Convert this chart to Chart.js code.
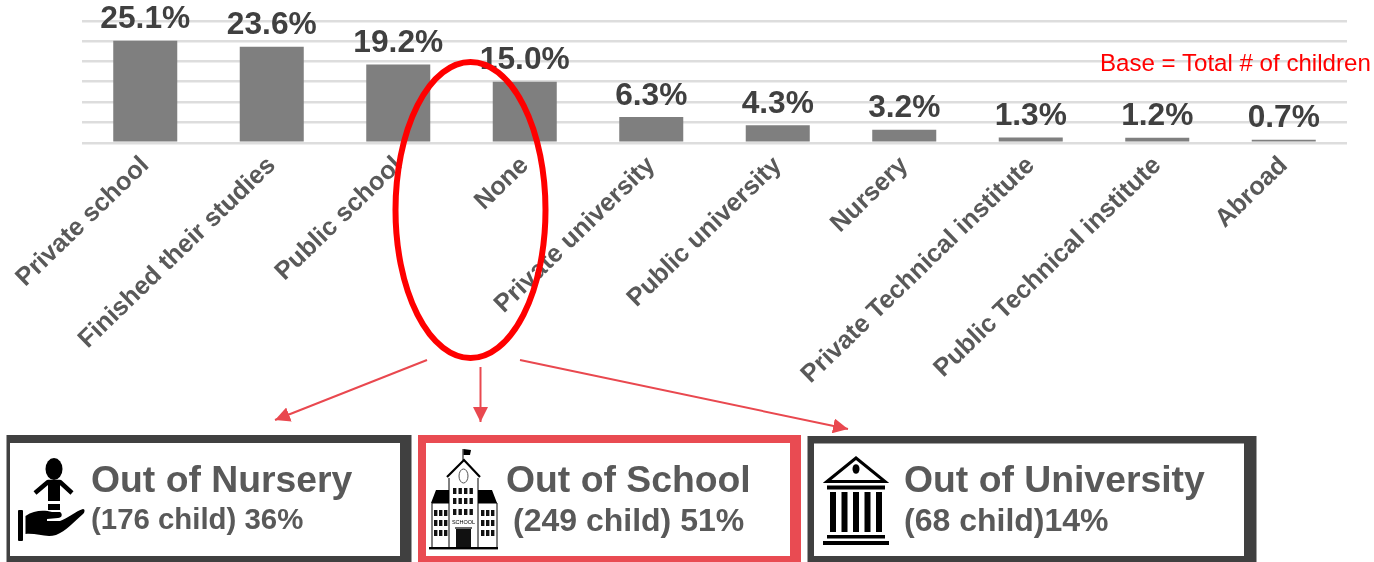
<!DOCTYPE html>
<html lang="en">
<head>
  <meta charset="UTF-8" />
  <title>Children by education status</title>
  <script src="https://cdn.jsdelivr.net/npm/chart.js"></script>
  <style>
    html, body { margin: 0; padding: 0; background: #fff; overflow: hidden; }
    #wrap { position: relative; width: 1374px; height: 562px; }
    canvas, svg { position: absolute; left: 0; top: 0; }
    text { font-family: 'Liberation Sans', Arial, sans-serif; }
    .head { font-size: 37.35px; font-weight: bold; fill: #595959; }
    .sub { font-size: 32px; font-weight: bold; fill: #595959; }
  </style>
</head>
<body>
<div id="wrap">
  <canvas id="chart" width="1374" height="562"></canvas>
  <svg id="overlay" width="1374" height="562" viewBox="0 0 1374 562" xmlns="http://www.w3.org/2000/svg">
    <defs>
      <marker id="tip" viewBox="0 0 10 10" refX="10" refY="5" markerWidth="15" markerHeight="15" markerUnits="userSpaceOnUse" orient="auto">
        <path d="M0 0 L10 5 L0 10 Z" fill="#e9484f"/>
      </marker>
    </defs>

    <text x="1100" y="71" font-size="24.1" fill="#ff0000">Base = Total # of children</text>
    <ellipse cx="470.5" cy="210" rx="75" ry="148" fill="none" stroke="#ff0000" stroke-width="6"/>

    <line x1="427" y1="360" x2="275" y2="420" stroke="#e9484f" stroke-width="2" marker-end="url(#tip)"/>
    <line x1="480.5" y1="367" x2="480.5" y2="422" stroke="#e9484f" stroke-width="2" marker-end="url(#tip)"/>
    <line x1="520" y1="360" x2="848" y2="429" stroke="#e9484f" stroke-width="2" marker-end="url(#tip)"/>

    <!-- boxes -->
    <rect x="6.5" y="435" width="405" height="127" fill="#404040"/>
    <rect x="10" y="443" width="390" height="113" fill="#fff"/>
    <rect x="418" y="435" width="383" height="127" fill="#e94b52"/>
    <rect x="426" y="443" width="364" height="113" fill="#fff"/>
    <rect x="807.5" y="436" width="449" height="126" fill="#404040"/>
    <rect x="814" y="443.5" width="430" height="112.5" fill="#fff"/>

    <text class="head" x="91" y="492">Out of Nursery</text>
    <text class="sub" x="91" y="529" style="font-size:29.4px">(176 child) 36%</text>
    <text class="head" x="506" y="492">Out of School</text>
    <text class="sub" x="513" y="531">(249 child) 51%</text>
    <text class="head" x="904" y="492">Out of University</text>
    <text class="sub" x="904" y="531">(68 child)14%</text>

    <!-- child on a hand -->
    <g fill="#000">
      <ellipse cx="54" cy="469" rx="8.5" ry="11"/>
      <path d="M48 481 H60 V501 H48 Z"/>
      <path d="M35 493 L48 482 H60 L72 493" fill="none" stroke="#000" stroke-width="4.5" stroke-linejoin="round"/>
      <rect x="48" y="504" width="12" height="6"/>
      <rect x="18" y="510" width="5" height="31" rx="1"/>
      <path d="M25.5 516 C34 510 44 510 52 512 L60 512 C63 514 62 518 58 518 L47 519 L47 521 L60 521 C68 518 76 511 83 509 C85 509 85 512 83 514 C74 522 66 531 56 535 C46 538 37 533 25.5 534 Z"/>
    </g>

    <!-- school -->
    <g id="school">
      <path d="M463 460 V449" stroke="#000" stroke-width="1"/>
      <path d="M463.5 449 L471 450 L470 455 L463.5 455 Z" fill="#000"/>
      <path d="M449 478 V547 M478 478 V547 M432 503 V547 M497 503 V547" stroke="#000" stroke-width="1" fill="none"/>
      <path d="M447 477 L464 460 L480 477" fill="none" stroke="#000" stroke-width="2.2"/>
      <ellipse cx="463.5" cy="476" rx="4.5" ry="7" fill="#fff" stroke="#555" stroke-width="1"/>
      <path d="M431 503 L436 490 H449 V503 Z M478 490 H492 L497 503 H478 Z" fill="#000"/>
      <path d="M432 503 H449 M478 503 H497" stroke="#000" stroke-width="1"/>
      <text x="463.5" y="524" font-size="5.5" text-anchor="middle" fill="#000">SCHOOL</text>
      <rect x="456" y="529" width="15" height="18" fill="#111"/>
      <path d="M455 528 H472" stroke="#000" stroke-width="1.2"/>
      <rect x="429" y="547" width="69" height="2.4" fill="#000"/>
    </g>

    <!-- university -->
    <g fill="#000">
      <path d="M827 481.5 L856 458 L885 481.5 Z" fill="#fff" stroke="#000" stroke-width="3" stroke-linejoin="miter"/>
      <ellipse cx="856" cy="469" rx="3.5" ry="4.8"/>
      <rect x="827" y="485.5" width="58" height="4"/>
      <rect x="830" y="492" width="6" height="40"/>
      <rect x="841.5" y="492" width="6" height="40"/>
      <rect x="853" y="492" width="6" height="40"/>
      <rect x="864.5" y="492" width="6" height="40"/>
      <rect x="876" y="492" width="6" height="40"/>
      <rect x="827" y="535" width="58" height="3.5"/>
      <rect x="823" y="541" width="66" height="4"/>
    </g>
  </svg>
</div>

<script>
  const categories = ['Private school', 'Finished their studies', 'Public school', 'None',
    'Private university', 'Public university', 'Nursery', 'Private Technical institute',
    'Public Technical institute', 'Abroad'];
  const shares = [25.1, 23.6, 19.2, 15.0, 6.3, 4.3, 3.2, 1.3, 1.2, 0.7];

  // small school windows: rows and columns of the three blocks
  const schoolWindows = [
    { xs: [453, 458.5, 464, 469.5], ys: [488, 498, 509] },
    { xs: [434, 439, 444], ys: [510, 520, 530] },
    { xs: [481, 486, 491], ys: [510, 520, 530] }
  ];
  const school = document.getElementById('school');
  schoolWindows.forEach(block => block.ys.forEach(y => block.xs.forEach(x => {
    const r = document.createElementNS('http://www.w3.org/2000/svg', 'rect');
    r.setAttribute('x', x); r.setAttribute('y', y);
    r.setAttribute('width', 3.4); r.setAttribute('height', 6);
    r.setAttribute('fill', '#111');
    school.appendChild(r);
  })));

  const valueLabels = {
    id: 'valueLabels',
    afterDatasetsDraw(chart) {
      const ctx = chart.ctx;
      ctx.save();
      ctx.font = "bold 31.7px 'Liberation Sans'";
      ctx.fillStyle = '#404040';
      ctx.textAlign = 'center';
      ctx.textBaseline = 'alphabetic';
      chart.getDatasetMeta(0).data.forEach((bar, i) => {
        ctx.fillText(shares[i].toFixed(1) + '%', bar.x, bar.y - 12.5);
      });
      ctx.restore();
    }
  };

  new Chart(document.getElementById('chart'), {
    type: 'bar',
    data: {
      labels: categories,
      datasets: [{
        data: shares,
        backgroundColor: '#7f7f7f',
        categoryPercentage: 1,
        barPercentage: 0.506
      }]
    },
    options: {
      responsive: false,
      animation: false,
      layout: { padding: { left: 82, right: 27, top: 20.7, bottom: 0 } },
      plugins: { legend: { display: false }, tooltip: { enabled: false } },
      scales: {
        x: {
          grid: { display: false, drawTicks: false },
          border: { display: false },
          ticks: {
            autoSkip: false,
            minRotation: 44,
            maxRotation: 44,
            padding: 8,
            color: '#595959',
            font: { family: "'Liberation Sans'", size: 25.4, weight: 'bold' }
          },
          afterFit(scale) {
            scale.height = 562 - 142.7;
            scale.paddingLeft = 0;
            scale.paddingRight = 0;
          }
        },
        y: {
          min: 0,
          max: 30,
          ticks: { display: false, stepSize: 5 },
          border: { display: false },
          grid: { color: '#dddddd', lineWidth: 2.4, drawTicks: false },
          afterFit(scale) { scale.width = 0; }
        }
      }
    },
    plugins: [valueLabels]
  });
</script>
</body>
</html>
